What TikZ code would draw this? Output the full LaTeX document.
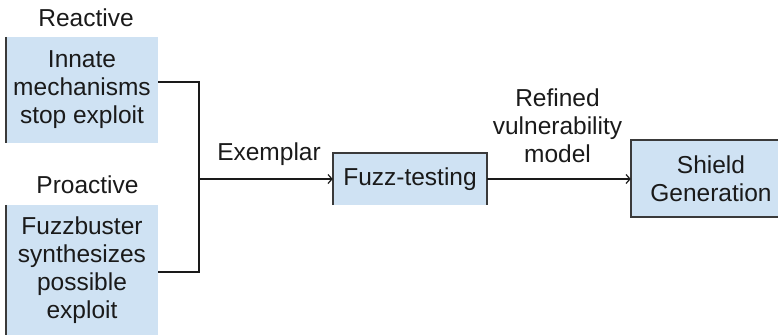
\documentclass[tikz,border=0pt]{standalone}
\usepackage{fontspec}
\setmainfont{Liberation Sans}
\usetikzlibrary{arrows.meta}
\definecolor{boxfill}{HTML}{CFE2F3}
\definecolor{edgegray}{HTML}{3A3A3A}
\definecolor{ink}{HTML}{1A1A1A}
\tikzset{
  stagebox/.style={fill=boxfill, draw=none, inner sep=0pt, align=center,
    text=ink, font=\fontsize{24.5}{28}\selectfont},
  tag/.style={inner sep=0pt, align=center, text=ink,
    font=\fontsize{24.5}{28}\selectfont},
  edge/.style={draw=edgegray, line width=1.5pt},
  link/.style={draw=ink, line width=1.2pt},
  flow/.style={link, -{Straight Barb[length=4pt,width=9pt,line width=1.2pt]}}
}
\begin{document}
\begin{tikzpicture}[x=1pt, y=-1pt]
  \useasboundingbox (0,0) rectangle (778,335);
  \begin{scope}
    \clip (0,0) rectangle (778,335);

    % stage boxes
    \node[stagebox, minimum width=152pt, minimum height=106pt] (innate) at (82,90)
      {Innate\\mechanisms\\stop exploit};
    \node[stagebox, minimum width=152pt, minimum height=130pt] (fuzzbuster) at (82,270)
      {Fuzzbuster\\synthesizes\\possible\\exploit};
    \node[stagebox, minimum width=154pt, minimum height=52pt] (fuzz) at (410,179)
      {Fuzz-testing};
    \node[stagebox, minimum width=160pt, minimum height=77pt] (shield) at (711,178.5)
      {Shield\\Generation};

    % box outlines
    \draw[edge] (innate.north west) -- (innate.south west);
    \draw[edge] (fuzzbuster.north west) -- (fuzzbuster.south west);
    \draw[edge] (fuzz.south west) -- (fuzz.north west) -- (fuzz.north east) -- (fuzz.south east);
    \draw[edge] (shield.north east) -- (shield.north west) -- (shield.south west) -- (shield.south east);

    % labels
    \node[tag, anchor=base] (reactive) at (86,26) {Reactive};
    \node[tag, anchor=base] (proactive) at (87.5,193) {Proactive};
    \node[tag, anchor=base] (exemplar) at (269,160) {Exemplar};
    \node[tag] (refined) at (557.5,126) {Refined\\vulnerability\\model};

    % connectors
    \coordinate (join) at (199,179);
    \draw[link] ([yshift=8pt]innate.east) -| (join);
    \draw[link] ([yshift=-2pt]fuzzbuster.east) -| (join);
    \draw[flow] (join) -- (fuzz.west);
    \draw[flow] (fuzz.east) -- (fuzz.east -| shield.west);
  \end{scope}
\end{tikzpicture}
\end{document}
